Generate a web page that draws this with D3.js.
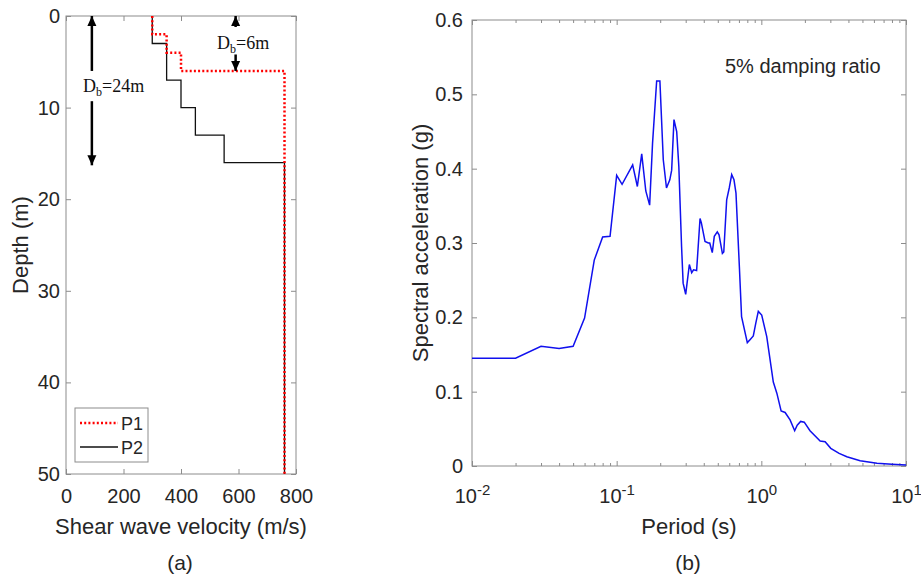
<!DOCTYPE html>
<html lang="en">
    <head>
        <meta charset="utf-8">
        <title>Vs profiles and response spectrum</title>
        <script src="https://d3js.org/d3.v7.min.js"></script>
        <style type="text/css">
            body { margin: 0; background: #fff; }
            text { font-family: "Liberation Sans", Arial, sans-serif; fill: #262626; }
            .axis line { stroke: #8c8c8c; }
            .axis path { display: none; }
            .axis text { font-size: 20px; fill: #262626; }
            .box { fill: none; stroke: #8c8c8c; stroke-width: 1px; }
            .serif { font-family: "Liberation Serif", "Times New Roman", serif; fill: #111; }
        </style>
    </head>
    <body>
        <script type="text/javascript">

            const w = 921;
            const h = 578;

            // ---- panel (a): shear wave velocity profiles ----
            // layer tops (m) and velocities (m/s), profiles end at 50 m
            const p1Top = [0, 2, 4, 6];
            const p1Vs  = [300, 350, 400, 760];
            const p2Top = [0, 3, 7, 10, 13, 16];
            const p2Vs  = [300, 350, 400, 450, 550, 760];
            const profileBottom = 50;

            const vsTicks = [0, 200, 400, 600, 800];
            const depthTicks = [0, 10, 20, 30, 40, 50];

            // D_b annotation arrows: velocity position, shaft pieces (depth m)
            const arrowV = [90, 590];
            const arrowUp = [[6.0, 0], [1.2, 0]];
            const arrowDown = [[9.3, 16.3], [4.2, 6.0]];
            const arrowText = ["24m", "6m"];

            // ---- panel (b): 5% damped response spectrum ----
            const periods = [0.01, 0.02, 0.03, 0.04, 0.05, 0.06, 0.07, 0.08, 0.09, 0.1,
                0.109, 0.129, 0.139, 0.149, 0.159, 0.169, 0.177, 0.189, 0.199, 0.21,
                0.221, 0.233, 0.24, 0.249, 0.26, 0.269, 0.281, 0.288, 0.3, 0.318,
                0.33, 0.34, 0.357, 0.377, 0.385, 0.408, 0.43, 0.44, 0.458, 0.473,
                0.496, 0.51, 0.538, 0.55, 0.576, 0.6, 0.624, 0.647, 0.668, 0.705,
                0.73, 0.8, 0.835, 0.88, 0.915, 0.953, 1.006, 1.09, 1.21, 1.28,
                1.37, 1.46, 1.58, 1.7, 1.77, 1.87, 1.98, 2.17, 2.55, 2.76,
                3.02, 3.45, 3.9, 4.82, 6.3, 8.0, 10];
            const sa = [0.145, 0.145, 0.161, 0.158, 0.161, 0.199, 0.277, 0.308, 0.309, 0.391,
                0.379, 0.405, 0.376, 0.42, 0.37, 0.351, 0.434, 0.518, 0.518, 0.412,
                0.374, 0.385, 0.398, 0.466, 0.45, 0.403, 0.295, 0.246, 0.231, 0.271,
                0.26, 0.264, 0.263, 0.333, 0.327, 0.302, 0.3, 0.3, 0.287, 0.309,
                0.315, 0.311, 0.286, 0.288, 0.358, 0.374, 0.392, 0.385, 0.367, 0.268,
                0.201, 0.166, 0.17, 0.175, 0.192, 0.208, 0.203, 0.174, 0.113, 0.098,
                0.074, 0.072, 0.062, 0.0475, 0.055, 0.06, 0.059, 0.0475, 0.0336, 0.0327,
                0.0238, 0.017, 0.0125, 0.0071, 0.0036, 0.0022, 0.0013];

            const periodTicks = [0.01, 0.1, 1, 10];
            const saTicks = [0, 0.1, 0.2, 0.3, 0.4, 0.5, 0.6];

            const svg = d3.select("body")
                    .append("svg")
                    .attr("width", w)
                    .attr("height", h)
                    .style("background-color", "white");

            //scales
            const xV = d3.scaleLinear().domain([0, 800]).range([66, 296]);
            const yD = d3.scaleLinear().domain([0, 50]).range([16, 474]);
            const xT = d3.scaleLog().domain([0.01, 10]).range([472, 906]);
            const yS = d3.scaleLinear().domain([0, 0.6]).range([466, 20]);

            //panel (a) axes, ticks pointing inward
            svg.append("g").attr("class", "axis")
                .attr("transform", "translate(0," + yD(50) + ")")
                .call(d3.axisBottom(xV).tickValues(vsTicks).tickSize(-5).tickPadding(15));
            svg.append("g").attr("class", "axis")
                .attr("transform", "translate(0," + yD(0) + ")")
                .call(d3.axisTop(xV).tickValues(vsTicks).tickSize(-5).tickFormat(""));
            svg.append("g").attr("class", "axis")
                .attr("transform", "translate(" + xV(0) + ",0)")
                .call(d3.axisLeft(yD).tickValues(depthTicks).tickSize(-5).tickPadding(6));
            svg.append("g").attr("class", "axis")
                .attr("transform", "translate(" + xV(800) + ",0)")
                .call(d3.axisRight(yD).tickValues(depthTicks).tickSize(-5).tickFormat(""));

            svg.append("rect").attr("class", "box")
                .attr("x", xV(0)).attr("y", yD(0))
                .attr("width", xV(800) - xV(0)).attr("height", yD(50) - yD(0));

            //step profiles
            function steps(tops, vs) {
                const pts = [];
                tops.forEach((t, i) => {
                    const bot = i < tops.length - 1 ? tops[i + 1] : profileBottom;
                    pts.push([vs[i], t]);
                    pts.push([vs[i], bot]);
                });
                return pts;
            }
            const profLine = d3.line().x(d => xV(d[0])).y(d => yD(d[1]));

            svg.append("path")
                .attr("d", profLine(steps(p2Top, p2Vs)))
                .attr("fill", "none")
                .attr("stroke", "#111")
                .attr("stroke-width", 1.3);

            svg.append("path")
                .attr("d", profLine(steps(p1Top, p1Vs)))
                .attr("fill", "none")
                .attr("stroke", "#ff0000")
                .attr("stroke-width", 2.5)
                .attr("stroke-dasharray", "2,2.2");

            //arrows
            svg.append("defs").append("marker")
                .attr("id", "head")
                .attr("viewBox", "0 -5 10 10")
                .attr("refX", 10).attr("refY", 0)
                .attr("markerUnits", "userSpaceOnUse")
                .attr("markerWidth", 10).attr("markerHeight", 10)
                .attr("orient", "auto")
                .append("path")
                .attr("d", "M0,-4.5L10,0L0,4.5Z")
                .attr("fill", "#000");

            arrowV.forEach((v, i) => {
                [arrowUp[i], arrowDown[i]].forEach(seg => {
                    svg.append("line")
                        .attr("x1", xV(v)).attr("x2", xV(v))
                        .attr("y1", yD(seg[0])).attr("y2", yD(seg[1]))
                        .attr("stroke", "#000")
                        .attr("stroke-width", 2.5)
                        .attr("marker-end", "url(#head)");
                });
            });

            function dbLabel(x, y, val) {
                const t = svg.append("text").attr("class", "serif")
                    .attr("x", x).attr("y", y).attr("font-size", "18px");
                t.append("tspan").text("D");
                t.append("tspan").attr("dy", 4).attr("font-size", "12px").text("b");
                t.append("tspan").attr("dy", -4).text("=" + val);
            }
            dbLabel(83, 92, arrowText[0]);
            dbLabel(217, 49, arrowText[1]);

            //legend
            const leg = svg.append("g");
            leg.append("rect")
                .attr("x", 75).attr("y", 408).attr("width", 73).attr("height", 54)
                .attr("fill", "white").attr("stroke", "#8c8c8c");
            leg.append("line").attr("x1", 80).attr("x2", 118).attr("y1", 423).attr("y2", 423)
                .attr("stroke", "#ff0000").attr("stroke-width", 2.5).attr("stroke-dasharray", "2,2.2");
            leg.append("line").attr("x1", 80).attr("x2", 118).attr("y1", 447).attr("y2", 447)
                .attr("stroke", "#111").attr("stroke-width", 1.3);
            leg.append("text").attr("x", 121).attr("y", 430).attr("font-size", "18px").text("P1");
            leg.append("text").attr("x", 121).attr("y", 454).attr("font-size", "18px").text("P2");

            //panel (a) labels
            svg.append("text")
                .attr("x", (xV(0) + xV(800)) / 2).attr("y", 534)
                .attr("text-anchor", "middle").attr("font-size", "22px")
                .text("Shear wave velocity (m/s)");
            svg.append("text")
                .attr("transform", "translate(28," + yD(25) + ") rotate(-90)")
                .attr("text-anchor", "middle").attr("font-size", "22px")
                .text("Depth (m)");
            svg.append("text")
                .attr("x", 180).attr("y", 570)
                .attr("text-anchor", "middle").attr("font-size", "21px")
                .text("(a)");

            //panel (b) axes
            const minors = [];
            [0.01, 0.1, 1].forEach(dec => {
                for (let k = 2; k <= 9; k++) minors.push(dec * k);
            });

            const bottomT = svg.append("g").attr("class", "axis")
                .attr("transform", "translate(0," + yS(0) + ")")
                .call(d3.axisBottom(xT).tickValues(periodTicks).tickSize(-5).tickPadding(23));
            bottomT.selectAll(".tick text").each(function(d) {
                const t = d3.select(this);
                t.text(null);
                t.append("tspan").text("10");
                t.append("tspan").attr("dy", "-0.55em").attr("font-size", "15px")
                    .text(Math.round(Math.log10(d)));
            });
            svg.append("g").attr("class", "axis")
                .attr("transform", "translate(0," + yS(0) + ")")
                .call(d3.axisBottom(xT).tickValues(minors).tickSize(-3).tickFormat(""));
            svg.append("g").attr("class", "axis")
                .attr("transform", "translate(0," + yS(0.6) + ")")
                .call(d3.axisTop(xT).tickValues(periodTicks).tickSize(-5).tickFormat(""));
            svg.append("g").attr("class", "axis")
                .attr("transform", "translate(0," + yS(0.6) + ")")
                .call(d3.axisTop(xT).tickValues(minors).tickSize(-3).tickFormat(""));
            svg.append("g").attr("class", "axis")
                .attr("transform", "translate(" + xT(0.01) + ",0)")
                .call(d3.axisLeft(yS).tickValues(saTicks).tickSize(-5).tickPadding(9)
                    .tickFormat(d => d === 0 ? "0" : d3.format(".1f")(d)));
            svg.append("g").attr("class", "axis")
                .attr("transform", "translate(" + xT(10) + ",0)")
                .call(d3.axisRight(yS).tickValues(saTicks).tickSize(-5).tickFormat(""));

            svg.append("rect").attr("class", "box")
                .attr("x", xT(0.01)).attr("y", yS(0.6))
                .attr("width", xT(10) - xT(0.01)).attr("height", yS(0) - yS(0.6));

            //spectrum line
            const specLine = d3.line()
                .x((d, i) => xT(periods[i]))
                .y(d => yS(d));
            svg.append("path")
                .attr("d", specLine(sa))
                .attr("fill", "none")
                .attr("stroke", "#1010ee")
                .attr("stroke-width", 1.5);

            //panel (b) labels
            svg.append("text")
                .attr("x", 725).attr("y", 73).attr("font-size", "20px")
                .text("5% damping ratio");
            svg.append("text")
                .attr("x", (xT(0.01) + xT(10)) / 2).attr("y", 534)
                .attr("text-anchor", "middle").attr("font-size", "22px")
                .text("Period (s)");
            svg.append("text")
                .attr("transform", "translate(428," + yS(0.3) + ") rotate(-90)")
                .attr("text-anchor", "middle").attr("font-size", "22px")
                .text("Spectral acceleration (g)");
            svg.append("text")
                .attr("x", 688).attr("y", 570)
                .attr("text-anchor", "middle").attr("font-size", "21px")
                .text("(b)");

        </script>
    </body>
</html>
